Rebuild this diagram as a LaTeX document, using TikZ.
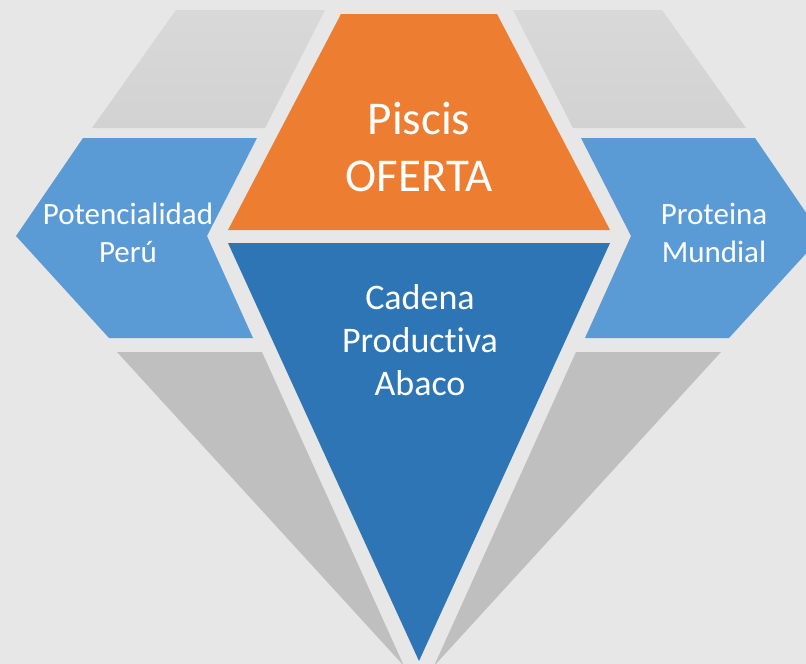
\documentclass[tikz,border=0pt]{standalone}
\usepackage{fontspec}
\setmainfont[Ligatures={NoCommon,NoRare,NoContextual}]{Carlito}
\usetikzlibrary{positioning}

\definecolor{fondo}{HTML}{E7E7E7}
\definecolor{naranja}{HTML}{ED7D31}
\definecolor{azul}{HTML}{2E75B6}
\definecolor{celeste}{HTML}{5B9BD5}
\definecolor{grisclaro}{HTML}{D2D2D2}
\definecolor{grisoscuro}{HTML}{BFBFBF}

\begin{document}
\begin{tikzpicture}[x=1pt,y=-1pt,
	faceta/.style={top color=#1!85!white, bottom color=#1, draw=none},
	rotulo/.style={text=white, align=center, font=\fontsize{31}{38}\selectfont}]
	\fill[fondo] (0,0) rectangle (806,664);
	\useasboundingbox (0,0) rectangle (806,664);
	\clip (0,0) rectangle (806,664);
	
	% upper facets
	\shade[faceta=grisclaro] (176,10) -- (325,10) -- (265,128) -- (92,128) -- cycle;
	\shade[faceta=grisclaro] (513,10) -- (662,10) -- (746,128) -- (573,128) -- cycle;
	% side arrows
	\fill[celeste] (83,138) -- (257,138) -- (207,236) -- (253,338) -- (109,338) -- (16,236) -- cycle;
	\fill[celeste] (581,138) -- (755,138) -- (822,236) -- (729,338) -- (585,338) -- (631,236) -- cycle;
	% centre
	\fill[naranja] (341,14) -- (497,14) -- (610,230) -- (228,230) -- cycle;
	\fill[azul] (228,243) -- (610,243) -- (419,661) -- cycle;
	% lower facets
	\fill[grisoscuro] (117,352) -- (262,352) -- (404,666) -- cycle;
	\fill[grisoscuro] (576,352) -- (721,352) -- (434,666) -- cycle;
	
	\node[rotulo] (potencial) at (128,233) {Potencialidad\\Perú};
	\node[rotulo] (proteina) at (714,233) {Proteina\\Mundial};
	\node[rotulo, font=\fontsize{47}{57}\selectfont] (piscis) at (419,147) {Piscis\\OFERTA};
	\node[rotulo, font=\fontsize{36}{43}\selectfont] (cadena) at (420,340) {Cadena\\Productiva\\Abaco};
\end{tikzpicture}
\end{document}
